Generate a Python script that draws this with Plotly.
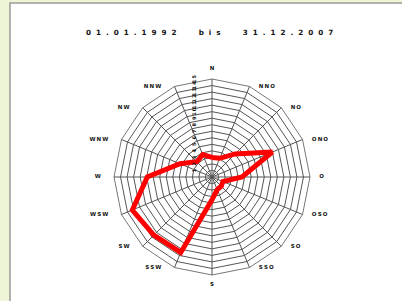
import plotly.graph_objects as go

directions = ["N", "NNO", "NO", "ONO", "O", "OSO", "SO", "SSO",
              "S", "SSW", "SW", "WSW", "W", "WNW", "NW", "NNW"]
frequency = [3.0, 3.1, 5.0, 10.0, 4.6, 1.8, 2.0, 2.1,
             3.5, 12.5, 12.6, 13.2, 9.9, 5.3, 3.3, 3.7]
radial_ticks = list(range(1, 16))
r_max = 15
title_text = "01.01.1992  bis  31.12.2007"

SP = "\u2009"
PAD_R = "\u2003\u00a0\u00a0"
PAD_L = "\u2003" + "\u00a0" * 4
title_spaced = "\u2007".join(title_text).replace(" ", "\u2002")

label_text, label_pos = [], []
for i, d in enumerate(directions):
    lab = SP.join(d)
    if i == 0:
        label_text.append(lab + "<br> ")
        label_pos.append("top center")
    elif i < 8:
        label_text.append(PAD_R + lab)
        label_pos.append("middle right")
    elif i == 8:
        label_text.append(" <br>" + lab)
        label_pos.append("bottom center")
    else:
        label_text.append(lab + PAD_L)
        label_pos.append("middle left")

fig = go.Figure()
fig.add_trace(go.Scatterpolar(
    r=frequency + [frequency[0]],
    theta=directions + [directions[0]],
    mode="lines",
    line=dict(color="#ff0000", width=5),
    hoverinfo="skip",
    showlegend=False,
))
fig.add_trace(go.Scatterpolar(
    r=[r_max] * len(directions),
    theta=directions,
    mode="text",
    text=label_text,
    textposition=label_pos,
    textfont=dict(family="DejaVu Sans", size=5.5, color="#111", weight="bold"),
    cliponaxis=False,
    hoverinfo="skip",
    showlegend=False,
))

W, H = 402, 301
cx, cy, R = 212, 177, 98
fig.update_layout(
    width=W, height=H,
    margin=dict(l=0, r=0, t=0, b=0),
    paper_bgcolor="#eef4d6",
    plot_bgcolor="white",
    showlegend=False,
    shapes=[dict(type="rect", xref="paper", yref="paper",
                 x0=10 / W, x1=1.02, y0=-0.02, y1=1 - 3 / H,
                 fillcolor="white", line=dict(color="#9a9a9a", width=1.5),
                 layer="below")],
    annotations=[dict(text=title_spaced, x=209 / W, y=1 - 33 / H,
                      xref="paper", yref="paper", showarrow=False,
                      font=dict(family="DejaVu Sans", size=7.2, color="#111",
                                weight="bold"),
                      xanchor="center", yanchor="middle")],
    polar=dict(
        domain=dict(x=[(cx - R) / W, (cx + R) / W],
                    y=[(H - cy - R) / H, (H - cy + R) / H]),
        bgcolor="rgba(0,0,0,0)",
        gridshape="linear",
        angularaxis=dict(
            direction="clockwise", rotation=90,
            categoryorder="array", categoryarray=directions,
            showticklabels=False, ticks="",
            showgrid=True, gridcolor="#555", gridwidth=0.7,
            showline=True, linecolor="#555", linewidth=0.8,
        ),
        radialaxis=dict(
            range=[0, r_max], angle=90, side="counterclockwise",
            tickmode="array", tickvals=radial_ticks,
            ticktext=[SP.join(str(t)) for t in radial_ticks],
            tickfont=dict(family="DejaVu Sans", size=5, color="#111",
                          weight="bold"),
            tickangle=0,
            ticks="outside", ticklen=14, tickcolor="rgba(0,0,0,0)",
            showgrid=True, gridcolor="#555", gridwidth=0.7,
            showline=False,
        ),
    ),
)

fig.write_html("out.html",
               config={"displayModeBar": False},
               post_script="document.body.style.margin='0px';")
